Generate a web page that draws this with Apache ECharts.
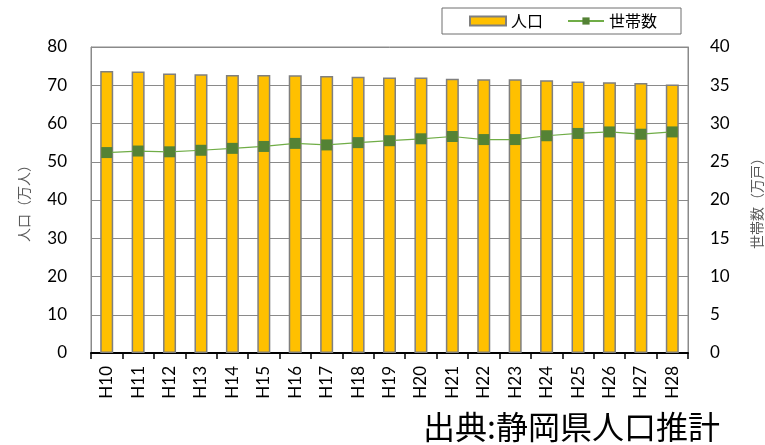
<!DOCTYPE html>
<html><head><meta charset="utf-8">
<script src="https://cdn.jsdelivr.net/npm/echarts@6/dist/echarts.min.js"></script>
<style>html,body{margin:0;padding:0;background:#fff;overflow:hidden}#c{width:765px;height:445px}</style>
</head><body><div id="c"></div>
<script>
const categories = ['H10','H11','H12','H13','H14','H15','H16','H17','H18','H19','H20','H21','H22','H23','H24','H25','H26','H27','H28'];
const population = [73.7,73.6,73.1,72.9,72.7,72.7,72.6,72.4,72.2,72.0,72.0,71.7,71.6,71.6,71.3,71.0,70.8,70.6,70.2];
const households = [26.2,26.4,26.3,26.5,26.75,27.0,27.4,27.2,27.5,27.75,28.0,28.3,27.9,27.9,28.4,28.7,28.9,28.6,28.9];
const leftTicks = {min:0, max:80, interval:10};
const rightTicks = {min:0, max:40, interval:5};

const numFont = 'Lato, "Noto Sans CJK JP", sans-serif';
const jpFont = '"Noto Sans CJK JP", sans-serif';
const chart = echarts.init(document.getElementById('c'));
chart.setOption({
  animation:false,
  grid:{left:91, right:77, top:47, bottom:92, show:true, borderColor:'#8a8a8a', borderWidth:1,
        containLabel:false, outerBoundsMode:'none'},
  legend:{
    data:[{name:'人口', icon:'rect'},'世帯数'], left:442, top:8,
    borderColor:'#6e6e6e', borderWidth:1, padding:[5,24,5,27],
    itemGap:24, itemWidth:36, itemHeight:9,
    textStyle:{fontFamily:jpFont, fontSize:16, color:'#000'}
  },
  xAxis:{
    type:'category', data:categories,
    axisLine:{lineStyle:{color:'#000', width:2}},
    axisTick:{show:true, length:6, lineStyle:{color:'#000', width:1.5}},
    axisLabel:{rotate:90, fontFamily:numFont, fontSize:17, color:'#000', margin:13}
  },
  yAxis:[
    {type:'value', min:leftTicks.min, max:leftTicks.max, interval:leftTicks.interval,
     name:'人口（万人）', nameLocation:'middle', nameGap:60, nameRotate:90,
     nameTextStyle:{fontFamily:jpFont, fontSize:14, color:'#595959'},
     axisLine:{show:true, lineStyle:{color:'#8a8a8a'}}, axisTick:{show:false},
     axisLabel:{fontFamily:numFont, fontSize:17, color:'#000', margin:24},
     splitLine:{lineStyle:{color:'#8a8a8a', width:1}}},
    {type:'value', min:rightTicks.min, max:rightTicks.max, interval:rightTicks.interval,
     name:'世帯数（万戸）', nameLocation:'middle', nameGap:62, nameRotate:90,
     nameTextStyle:{fontFamily:jpFont, fontSize:14, color:'#595959'},
     axisLine:{show:true, lineStyle:{color:'#8a8a8a'}}, axisTick:{show:false},
     axisLabel:{fontFamily:numFont, fontSize:17, color:'#000', margin:22},
     splitLine:{show:false}}
  ],
  series:[
    {name:'人口', type:'bar', data:population, barWidth:13, yAxisIndex:0,
     itemStyle:{color:'#FFC000', borderColor:'#7f7f7f', borderWidth:1.5}},
    {name:'世帯数', type:'line', data:households, yAxisIndex:1,
     symbol:'rect', symbolSize:11,
     lineStyle:{color:'#70AD47', width:1.2},
     itemStyle:{color:'#548235', borderWidth:0}}
  ],
  graphic:[
    {type:'text', left:423, top:411, style:{text:'出典:静岡県人口推計', font:'32px "Noto Sans CJK JP"', fill:'#000'}}
  ]
});
</script></body></html>
